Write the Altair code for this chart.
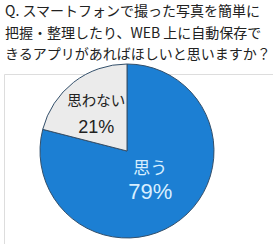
import altair as alt
import pandas as pd

categories = ["思う", "思わない"]
values = [79, 21]
pct_labels = ["79%", "21%"]
question = [
    "Q. スマートフォンで撮った写真を簡単に",
    "把握・整理したり、WEB 上に自動保存で",
    "きるアプリがあればほしいと思いますか？",
]

df = pd.DataFrame({
    "cat": categories,
    "val": values,
    "pct": pct_labels,
    "ord": list(range(len(categories))),
})

FONT = "Noto Sans CJK JP"
TOP = 74
LEFT = 4
cx, cy, R = 127 - LEFT, 151 - TOP, 87

color_scale = alt.Scale(domain=categories, range=["#1c7fd3", "#ebebeb"])
theta_scale = alt.Scale(domain=[0, 100])

base = alt.Chart(df).transform_window(
    end="sum(val)", sort=[alt.SortField("ord")]
).transform_calculate(
    start="datum.end - datum.val",
    mid="datum.end - datum.val / 2",
)

pie = base.mark_arc(
    outerRadius=R, stroke="#34506b", strokeWidth=1
).encode(
    theta=alt.Theta("start:Q", scale=theta_scale),
    theta2="end:Q",
    x=alt.value(cx), y=alt.value(cy),
    color=alt.Color("cat:N", scale=color_scale, legend=None),
)

def label(cat, field, radius, size, font, dy, color):
    return base.transform_filter(alt.datum.cat == cat).mark_text(
        radius=radius, fontSize=size, font=font, dy=dy, color=color
    ).encode(
        theta=alt.Theta("mid:Q", scale=theta_scale),
        x=alt.value(cx), y=alt.value(cy),
        text=f"{field}:N",
    )

l1 = label("思う", "cat", 38, 17, FONT, -12, "#d8efff")
l2 = label("思う", "pct", 38, 22, "Liberation Sans", 11, "#d8efff")
l3 = label("思わない", "cat", 50, 14.5, FONT, -9, "#222222")
l4 = label("思わない", "pct", 50, 18, "Liberation Sans", 17, "#222222")

chart = alt.layer(pie, l1, l2, l3, l4).properties(
    width=273 - LEFT, height=244 - TOP,
    padding={"left": LEFT, "right": 0, "top": TOP, "bottom": 0},
    autosize=alt.AutoSizeParams(type="none"),
    title=alt.TitleParams(
        text=question, font=FONT, fontSize=14, fontWeight="normal",
        color="#222222", anchor="start", lineHeight=21.5, offset=7,
        dy=7, dx=1,
    ),
).configure_view(stroke=None).configure(background="white")

chart.save("out.html", embed_options={"renderer": "svg", "actions": False})
